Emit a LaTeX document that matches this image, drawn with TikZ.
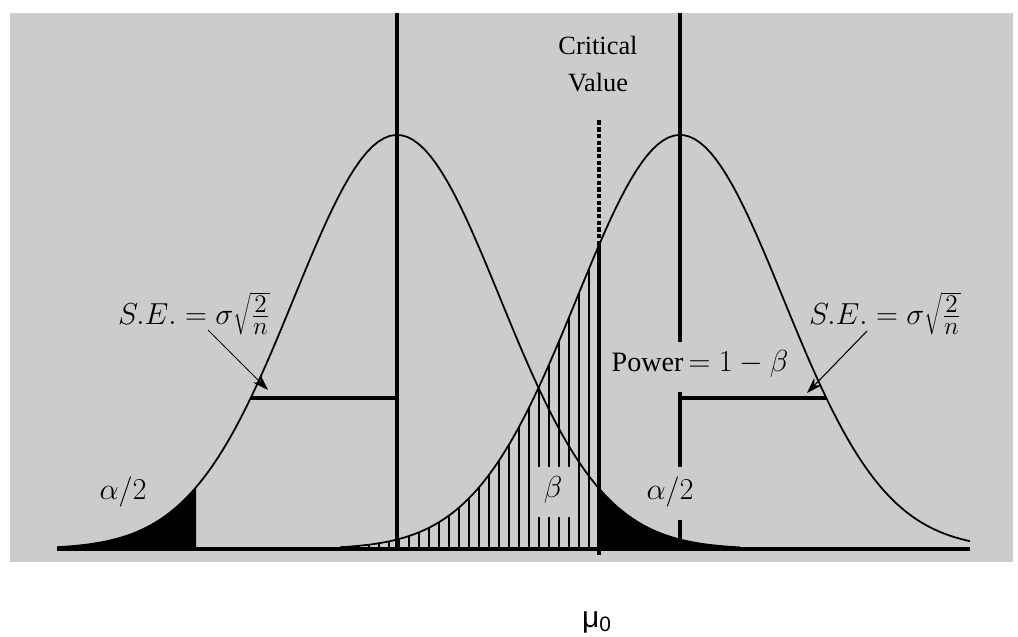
\documentclass[tikz,border=0pt]{standalone}
\usepackage{fontspec}
\setmainfont{Liberation Serif}
\newfontfamily\labelsans{Liberation Sans}
\usetikzlibrary{arrows.meta}
\definecolor{panel}{gray}{0.8}
% the two normal curves, heights in the same units as x
\pgfmathdeclarefunction{hnull}{1}{\pgfmathparse{414*exp(-0.5*((#1-397)/103)^2)}}
\pgfmathdeclarefunction{halt}{1}{\pgfmathparse{414*exp(-0.5*((#1-680)/103)^2)}}

\begin{document}
\begin{tikzpicture}[x=0.02cm,y=0.02cm,
    curve/.style={line width=1pt},
    meanline/.style={line width=2pt},
    hatch/.style={line width=1.2pt},
    pointer/.style={line width=0.6pt,-{Stealth[length=9pt,width=6pt]}},
    mathlabel/.style={font=\fontsize{19}{21}\selectfont},
    textlabel/.style={font=\fontsize{15}{21}\selectfont,align=center}]
  \useasboundingbox (0,-87) rectangle (1018,549);
  \fill[panel] (10,-13) rectangle (1013,536);
  % alpha/2 tails of the null curve
  \fill (57,0) -- plot[domain=57:196,samples=40] (\x,{hnull(\x)}) -- (196,0) -- cycle;
  \fill (599,0) -- plot[domain=599:740,samples=40] (\x,{hnull(\x)}) -- (740,0) -- cycle;
  % beta area, hatched
  \foreach \h in {349,359,...,529,579,589}
    \draw[hatch] (\h,0) -- (\h,{halt(\h)});
  \foreach \h in {539,549,...,569}{
    \draw[hatch] (\h,0) -- (\h,32);
    \draw[hatch] (\h,82) -- (\h,{halt(\h)});
  }
  % curves
  \draw[curve] plot[domain=57:740,samples=120] (\x,{hnull(\x)});
  \draw[curve] plot[domain=340:970,samples=120] (\x,{halt(\x)});
  % axis
  \draw[line width=2.2pt] (57,0) -- (970,0);
  % means
  \draw[meanline] (397,0) -- (397,536);
  \draw[meanline] (680,536) -- (680,207);
  \draw[meanline] (680,157) -- (680,82);
  \draw[meanline] (680,29) -- (680,0);
  % critical value
  \draw[meanline] (599,-6) -- (599,{halt(599)});
  \draw[line width=1.8pt,dash pattern=on 2.5pt off 1.3pt] (599,{halt(599)}) -- (599,429);
  % standard errors
  \draw[meanline] (251,151) -- (397,151);
  \draw[meanline] (680,151) -- (826,151);
  % labels
  \node[textlabel] (critval) at (598,485) {Critical\\Value};
  \node[mathlabel] (seleft) at (194,235) {$S.E.=\sigma\sqrt{\frac{2}{n}}$};
  \node[mathlabel] (seright) at (885,235) {$S.E.=\sigma\sqrt{\frac{2}{n}}$};
  \node[textlabel,font=\fontsize{16}{18}\selectfont] (power) at (700,185) {Power$\,=1-\beta$};
  \node[mathlabel] (alphaleft) at (123,57) {$\alpha/2$};
  \node[mathlabel] (alpharight) at (670,57) {$\alpha/2$};
  \node[mathlabel] (betalabel) at (553,59) {$\beta$};
  \node[font=\labelsans\fontsize{17}{19}\selectfont] (muzero) at (597,-73) {μ\textsubscript{0}};
  % pointers
  \coordinate (seLtail) at (208,219);
  \coordinate (seLtip) at (268,159);
  \coordinate (seRtail) at (867,218);
  \coordinate (seRtip) at (807,156);
  \draw[pointer] (seLtail) -- (seLtip);
  \draw[pointer] (seRtail) -- (seRtip);
\end{tikzpicture}
\end{document}
